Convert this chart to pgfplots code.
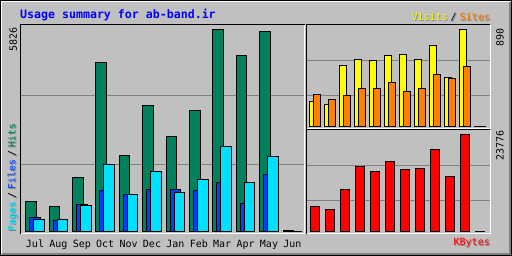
\documentclass[border=0pt]{standalone}
\usepackage{pgfplots}
\pgfplotsset{compat=1.18}
\usepackage{fontspec}
\setmainfont{DejaVu Sans Mono}
\definecolor{bg}{HTML}{C0C0C0}
\definecolor{dkgrey}{HTML}{808080}
\definecolor{hits}{HTML}{00805C}
\definecolor{files}{HTML}{0040FF}
\definecolor{pages}{HTML}{00E0FF}
\definecolor{visits}{HTML}{FFFF00}
\definecolor{sites}{HTML}{FF8000}
\definecolor{kbytes}{HTML}{FF0000}
\definecolor{titleblue}{HTML}{0000FF}
\newcommand{\sm}{\fontsize{10}{12}\selectfont}
\pgfplotsset{panel/.style={
  scale only axis, anchor=south west,
  axis line style={draw=none},
  tick style={draw=none}, major tick length=0pt,
  ymajorgrids, grid style={dkgrey, line width=1pt},
  yticklabels={}, clip=false, scaled y ticks=false, scaled x ticks=false
}}
\begin{document}
\begin{tikzpicture}[x=1pt,y=1pt]
\fill[bg] (0,0) rectangle (512,256);
\path[use as bounding box] (0,0) rectangle (512,256);
% outer frame
\draw[white, line width=1pt] (1.5,1.5) -- (1.5,254.5) -- (510.5,254.5);
\draw[dkgrey, line width=2pt] (2,2) -- (510,2) -- (510,254);
\draw[black, line width=1pt] (0.5,0.5) rectangle (511.5,255.5);

% ---------- left panel: Hits / Files / Pages ----------
\begin{axis}[panel, at={(20pt,22pt)}, width=284.5pt, height=209pt,
  xmin=-0.641, xmax=11.517, ymin=-63, ymax=5964, ytick={1927,3937},
  xtick={0,...,11},
  xticklabels={Jul,Aug,Sep,Oct,Nov,Dec,Jan,Feb,Mar,Apr,May,Jun},
  xticklabel style={font=\sm, anchor=base, yshift=-13.5pt}]
\addplot[ybar, bar width=10.5pt, bar shift=-4pt, fill=hits, draw=black, line width=1pt]
 coordinates {(0,874) (1,721) (2,1557) (3,4874) (4,2201) (5,3634) (6,2740) (7,3490) (8,5826) (9,5076) (10,5768) (11,40)};
\addplot[ybar, bar width=10.5pt, bar shift=0pt, fill=files, draw=black, line width=1pt]
 coordinates {(0,404) (1,326) (2,787) (3,1182) (4,1076) (5,1211) (6,1211) (7,1182) (8,1422) (9,808) (10,1653) (11,10)};
\addplot[ybar, bar width=10.5pt, bar shift=4pt, fill=pages, draw=black, line width=1pt]
 coordinates {(0,355) (1,346) (2,750) (3,1941) (4,1076) (5,1730) (6,1133) (7,1500) (8,2460) (9,1422) (10,2172) (11,10)};
\end{axis}

% ---------- top right panel: Visits / Sites ----------
\begin{axis}[panel, at={(306.5pt,127pt)}, width=183.5pt, height=104pt,
  xmin=-0.5655, xmax=11.643, ymin=-20, ymax=934, ytick={289,610}, xtick=\empty]
\addplot[ybar, bar width=7pt, bar shift=-2pt, fill=visits, draw=black, line width=1pt]
 coordinates {(0,232) (1,202) (2,560) (3,615) (4,606) (5,651) (6,661) (7,615) (8,743) (9,452) (10,890) (11,5)};
\addplot[ybar, bar width=7pt, bar shift=2pt, fill=sites, draw=black, line width=1pt]
 coordinates {(0,294) (1,248) (2,284) (3,349) (4,349) (5,404) (6,324) (7,349) (8,477) (9,440) (10,551) (11,5)};
\end{axis}

% ---------- bottom right panel: KBytes ----------
\begin{axis}[panel, at={(306.5pt,22pt)}, width=183.5pt, height=104pt,
  xmin=-0.5655, xmax=11.643, ymin=-539, ymax=24951, ytick={7721,16299}, xtick=\empty]
\addplot[ybar, bar width=9pt, bar shift=0pt, fill=kbytes, draw=black, line width=1pt]
 coordinates {(0,6201) (1,5466) (2,10368) (3,16005) (4,14780) (5,17231) (6,15270) (7,15515) (8,20172) (9,13554) (10,23776) (11,120)};
\end{axis}

% panel borders
\draw[white, line width=1pt] (20,22) -- (304.5,22) -- (304.5,231);
\draw[black, line width=1pt] (20,22) -- (20,231) -- (304.5,231);
\draw[white, line width=1pt] (306.5,127) -- (490,127) -- (490,231);
\draw[black, line width=1pt] (306.5,127) -- (306.5,231) -- (490,231);
\draw[white, line width=1pt] (306.5,22) -- (490,22) -- (490,126);
\draw[black, line width=1pt] (306.5,22) -- (306.5,126) -- (490,126);

% title
\node[anchor=base west, inner sep=0pt, text=titleblue, font=\fontsize{11.6}{13}\selectfont\bfseries] at (20,237.5) {Usage summary for ab-band.ir};

% legends with shadows
\node[anchor=base east, inner sep=0pt, font=\sm, text=dkgrey] at (491,234.5) {Visits\hspace{3pt}/\hspace{3pt}Sites};
\node[anchor=base east, inner sep=0pt, font=\sm] at (490,235.5) {\textcolor{visits}{Visits}\hspace{3pt}\textcolor{black}{/}\hspace{3pt}\textcolor{sites}{Sites}};
\node[anchor=base east, inner sep=0pt, font=\sm, text=dkgrey] at (491,9.5) {KBytes};
\node[anchor=base east, inner sep=0pt, font=\sm, text=kbytes] at (490,10.5) {KBytes};
\node[anchor=west, rotate=90, inner sep=0pt, font=\sm, text=dkgrey] at (13.5,23.3) {Pages\hspace{3pt}/\hspace{3pt}Files\hspace{3pt}/\hspace{3pt}Hits};
\node[anchor=west, rotate=90, inner sep=0pt, font=\sm] at (12.5,24.3) {\textcolor{pages}{Pages}\hspace{3pt}\textcolor{black}{/}\hspace{3pt}\textcolor{files}{Files}\hspace{3pt}\textcolor{black}{/}\hspace{3pt}\textcolor{hits}{Hits}};

% max value labels
\node[anchor=east, rotate=90, inner sep=0pt, font=\sm] at (13.3,228.7) {5826};
\node[anchor=east, rotate=90, inner sep=0pt, font=\sm] at (500,228) {890};
\node[anchor=east, rotate=90, inner sep=0pt, font=\sm] at (500,125.3) {23776};
\end{tikzpicture}
\end{document}
